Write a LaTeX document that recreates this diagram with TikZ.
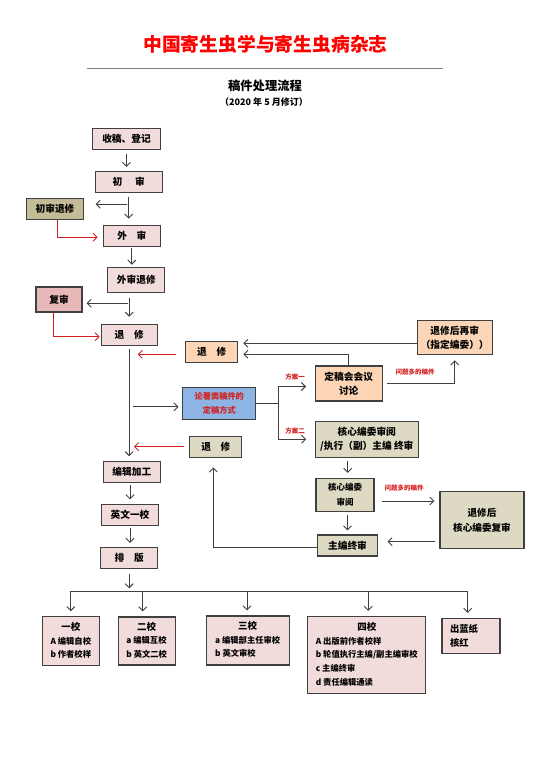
\documentclass[tikz,border=0pt]{standalone}
\usepackage{fontspec}
\usepackage{xcolor}
\usepackage{tikz}
\usetikzlibrary{arrows.meta,positioning}
\newfontfamily\cjk{Noto Sans CJK SC}
\definecolor{frame}{HTML}{404040}
\definecolor{pink}{HTML}{F2DCDB}
\definecolor{olive}{HTML}{C4BC96}
\definecolor{rose}{HTML}{E6B9B8}
\definecolor{peach}{HTML}{FBD5B5}
\definecolor{sky}{HTML}{8DB4E2}
\definecolor{khaki}{HTML}{DDD9C3}
\definecolor{alert}{HTML}{D42020}
\tikzset{
  box/.style={draw=frame, line width=1.2pt, inner sep=0pt, align=center,
    font=\cjk\bfseries\fontsize{9.7}{14}\selectfont},
  pinkbox/.style={box, fill=pink},
  olivebox/.style={box, fill=olive},
  rosebox/.style={box, fill=rose},
  peachbox/.style={box, fill=peach},
  skybox/.style={box, fill=sky, text=alert, font=\cjk\bfseries\fontsize{8.2}{14}\selectfont},
  khakibox/.style={box, fill=khaki},
  proofbox/.style={box, fill=pink, font=\cjk\bfseries\fontsize{8.3}{13.7}\selectfont},
  arr/.style={draw=frame, line width=0.9pt, -{Straight Barb[length=4pt,width=8pt]}},
  redarr/.style={arr, draw=alert},
  link/.style={draw=frame, line width=0.9pt},
  note/.style={text=alert, font=\cjk\bfseries\fontsize{6.5}{8}\selectfont}
}

\begin{document}
\begin{tikzpicture}[x=1pt, y=-1pt]
  \path[fill=white, use as bounding box] (0,0) rectangle (550,757);

  % heading
  \node[text=red, font=\cjk\bfseries\fontsize{18.8}{20}\selectfont] (title) at (265.5,44) {中国寄生虫学与寄生虫病杂志};
  \draw[draw=gray, line width=0.8pt] (87.3,68.3) -- (443.3,68.3);
  \node[font=\cjk\bfseries\fontsize{12.3}{14}\selectfont] (sub) at (265,86) {稿件处理流程};
  \node[font=\cjk\bfseries\fontsize{9}{10}\selectfont] (date) at (264,101.7) {（2020 年 5 月修订）};

  % main column
  \node[pinkbox, minimum width=68pt, minimum height=21pt] (recv) at (126.5,139) {收稿、登记};
  \node[pinkbox, minimum width=67pt, minimum height=21pt] (first) at (128.7,182) {初\hspace{1.3em}审};
  \node[olivebox, minimum width=57pt, minimum height=21pt] (firstret) at (55,209) {初审退修};
  \node[pinkbox, minimum width=57pt, minimum height=21pt] (ext) at (131.8,235.7) {外\quad 审};
  \node[pinkbox, minimum width=57pt, minimum height=25pt] (extret) at (136.3,279.8) {外审退修};
  \node[rosebox, minimum width=46pt, minimum height=25pt] (recheck) at (59,299.5) {复审};
  \node[pinkbox, minimum width=56pt, minimum height=21pt] (ret) at (129.2,334.8) {退\quad 修};
  \node[pinkbox, minimum width=57pt, minimum height=21pt] (edit) at (131.8,471.8) {编辑加工};
  \node[pinkbox, minimum width=57pt, minimum height=21pt] (eng) at (130,514.7) {英文一校};
  \node[pinkbox, minimum width=57pt, minimum height=21pt] (typeset) at (129.2,558.3) {排\quad 版};

  % decision part
  \node[peachbox, minimum width=52pt, minimum height=21pt] (retA) at (211.7,352.3) {退\quad 修};
  \node[skybox, minimum width=73pt, minimum height=32pt] (mode) at (219.3,403.8) {论著类稿件的\\定稿方式};
  \node[khakibox, minimum width=52pt, minimum height=21pt] (retB) at (215.8,446.7) {退\quad 修};
  \node[peachbox, minimum width=67pt, minimum height=35pt] (meet) at (348.7,383.5) {定稿会会议\\讨论};
  \node[peachbox, minimum width=75pt, minimum height=34pt] (rereview) at (454.7,337.8) {退修后再审\\（指定编委））};
  \node[khakibox, minimum width=103pt, minimum height=36pt] (core) at (366.8,439.2) {核心编委审阅\\/执行（副）主编 终审};
  \node[khakibox, minimum width=58pt, minimum height=33pt, font=\cjk\bfseries\fontsize{8.5}{15}\selectfont] (coreread) at (345,495) {核心编委\\审阅};
  \node[khakibox, minimum width=60pt, minimum height=21pt] (chief) at (347.5,545.5) {主编终审};
  \node[khakibox, minimum width=84pt, minimum height=57pt, font=\cjk\bfseries\fontsize{9.6}{15.3}\selectfont] (corere) at (482,520.3) {退修后\\核心编委复审};

  \node[note] (planA) at (295,376.7) {方案一};
  \node[note] (planB) at (295,431) {方案二};
  \node[note] (manyA) at (415,372.3) {问题多的稿件};
  \node[note] (manyB) at (404,488.3) {问题多的稿件};

  % proof rounds
  \node[proofbox, minimum width=57pt, minimum height=49pt] (p1) at (70.8,641.3)
    {\begin{tabular}{@{}l@{}}\multicolumn{1}{c}{\fontsize{9.5}{13.7}\selectfont 一校}\\A 编辑自校\\b 作者校样\end{tabular}};
  \node[proofbox, minimum width=57pt, minimum height=48pt] (p2) at (146.7,641)
    {\begin{tabular}{@{}l@{}}\multicolumn{1}{c}{\fontsize{9.5}{13.7}\selectfont 二校}\\a 编辑互校\\b 英文二校\end{tabular}};
  \node[proofbox, minimum width=83pt, minimum height=49pt] (p3) at (247.7,640.5)
    {\begin{tabular}{@{}l@{}}\multicolumn{1}{c}{\fontsize{9.5}{13.7}\selectfont 三校}\\a 编辑部主任审校\\b 英文审校\end{tabular}};
  \node[proofbox, minimum width=118pt, minimum height=77pt] (p4) at (366.8,655)
    {\begin{tabular}{@{}l@{}}\multicolumn{1}{c}{\fontsize{9.5}{13.7}\selectfont 四校}\\A 出版前作者校样\\b 轮值执行主编/副主编审校\\c 主编终审\\d 责任编辑通读\end{tabular}};
  \node[proofbox, minimum width=58pt, minimum height=35pt, text width=42pt, align=left,
    font=\cjk\bfseries\fontsize{9.3}{14.3}\selectfont] (p5) at (471,636) {出蓝纸\\核红};

  % connectors of the main column
  \draw[arr, shorten <=4pt, shorten >=4pt] (recv.south) -- (recv.south |- first.north);
  \draw[arr, shorten <=4pt, shorten >=6pt] (first.south) -- (first.south |- ext.north);
  \coordinate (fr) at (126.7,204.3);
  \draw[arr, shorten >=11.5pt] (fr) -- (fr -| firstret.east);
  \coordinate (frs) at ([xshift=2.7pt]firstret.south);
  \coordinate (exw) at ([yshift=-1.5pt]ext.west);
  \draw[redarr, shorten >=5pt] (frs) |- (exw);
  \draw[arr, shorten <=1.5pt, shorten >=2pt] (ext.south) -- (ext.south |- extret.north);
  \draw[arr, shorten <=5pt, shorten >=7pt] (ret.north |- extret.south) -- (ret.north);
  \coordinate (er) at (128.3,303.3);
  \draw[arr, shorten >=4pt] (er) -- (er -| recheck.east);
  \coordinate (rcs) at ([xshift=-5.7pt]recheck.south);
  \coordinate (rtw) at ([yshift=-1.9pt]ret.west);
  \draw[redarr, shorten >=1pt] (rcs) |- (rtw);
  \draw[arr, shorten <=3.5pt, shorten >=4.5pt] (ret.south) -- (ret.south |- edit.north);
  \draw[arr, shorten <=2.3pt, shorten >=4.3pt] (eng.north |- edit.south) -- (eng.north);
  \draw[arr, shorten <=1.7pt, shorten >=4.4pt] (eng.south) -- (eng.south |- typeset.north);

  % returns into the main column
  \coordinate (raw) at ([yshift=-2pt]retA.west);
  \draw[redarr, shorten <=9pt, shorten >=8.5pt] (raw) -- (raw -| ret.south);
  \coordinate (mw) at ([yshift=-3pt]mode.west);
  \draw[arr, shorten <=4pt, shorten >=3.7pt] (mw -| ret.south) -- (mw);
  \draw[redarr, shorten <=5pt, shorten >=4.8pt] (retB.west) -- (retB.west -| ret.south);

  % two ways to decide
  \coordinate[right=22.3pt of mode.east] (split);
  \draw[link] (mode.east) -- (split);
  \coordinate (mtw) at ([yshift=-3pt]meet.west);
  \draw[arr, shorten >=8.6pt] (split) |- (mtw);
  \draw[arr, shorten >=8.6pt] (split) |- (core.west);
  \coordinate (rae) at ([yshift=-2pt]retA.east);
  \draw[arr, shorten >=5pt] (meet.north) |- (rae);
  \coordinate (rrw) at ([yshift=-5.5pt]rereview.west);
  \draw[arr, shorten >=5pt] (rrw) -- (rrw -| retA.east);
  \draw[arr, shorten <=4pt, shorten >=5pt] (meet.east) -| (rereview.south);

  \coordinate (cs) at ([xshift=2.7pt]coreread.north);
  \draw[arr, shorten <=3.4pt, shorten >=5pt] (cs |- core.south) -- (cs);
  \draw[arr, shorten <=3.3pt, shorten >=4pt] (chief.north |- coreread.south) -- (chief.north);
  \coordinate (cre) at ([yshift=-6pt]coreread.east);
  \draw[arr, shorten <=7.7pt, shorten >=5pt] (cre) -- (cre -| corere.west);
  \coordinate (che) at ([yshift=3.8pt]chief.east);
  \draw[arr, shorten <=4pt, shorten >=9.4pt] (che -| corere.west) -- (che);
  \coordinate (chw) at ([yshift=-2.2pt]chief.west);
  \coordinate (rbs) at ([xshift=-2.5pt]retB.south);
  \draw[arr, shorten >=9.7pt] (chw) -| (rbs);

  % fan out to the proof rounds
  \coordinate (bar) at (126,591);
  \draw[arr, shorten <=4.3pt, shorten >=2.7pt] (typeset.south) -- (typeset.south |- bar);
  \draw[link] (p1.north |- bar) -- ([xshift=-3.3pt]p5.north |- bar);
  \foreach \b/\dx in {p1/0, p2/-4, p3/-0.7, p4/1.5, p5/-3.3} {
    \coordinate (top) at ([xshift=\dx pt]\b.north);
    \draw[arr, shorten >=5pt] (top |- bar) -- (top);
  }
\end{tikzpicture}
\end{document}
